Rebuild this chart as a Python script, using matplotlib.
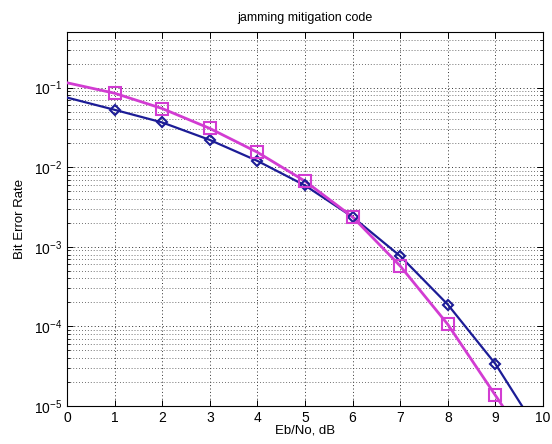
import numpy as np
import matplotlib
matplotlib.use("Agg")
import matplotlib.pyplot as plt
from matplotlib.ticker import LogLocator, NullFormatter, FixedLocator

plt.rcParams['font.family'] = ['Liberation Sans', 'DejaVu Sans']
plt.rcParams['mathtext.fontset'] = 'custom'
plt.rcParams['mathtext.rm'] = 'Liberation Sans'
plt.rcParams['mathtext.it'] = 'Liberation Sans'

# measured points (markers)
ebno = [1, 2, 3, 4, 5, 6, 7, 8, 9]
ber_blue = [0.0526, 0.0365, 0.022, 0.012, 0.0059, 0.00237, 7.65e-4, 1.88e-4, 3.38e-5]
ber_mag = [0.085, 0.0546, 0.0307, 0.0154, 0.00668, 0.00237, 5.74e-4, 1.06e-4, 1.36e-5]

# fitted curves
fit_x_blue = [0, 1, 2, 3, 4, 5, 6, 7, 8, 9, 9.56]
fit_blue = [0.075] + ber_blue + [1e-5]
fit_x_mag = [0, 1, 2, 3, 4, 5, 6, 7, 8, 9, 9.15]
fit_mag = [0.115] + ber_mag + [1e-5]

blue = '#1c1c96'
magenta = '#d23cd2'

fig = plt.figure(figsize=(5.52, 4.44), dpi=100)
ax = fig.add_axes([0.1214, 0.0856, 0.8623, 0.8424])

ax.semilogy(fit_x_blue, fit_blue, '-', color=blue, lw=1.6, zorder=3)
ax.semilogy(ebno, ber_blue, 'D', mfc='none', mec=blue, mew=1.5, ms=5.5, zorder=4)
ax.semilogy(fit_x_mag, fit_mag, '-', color=magenta, lw=2.0, zorder=3)
ax.semilogy(ebno, ber_mag, 's', mfc='none', mec=magenta, mew=1.5, ms=8, zorder=4)

ax.set_xlim(0, 10)
ax.set_ylim(1e-5, 0.5)
ax.xaxis.set_major_locator(FixedLocator(range(11)))
ax.yaxis.set_major_locator(LogLocator(base=10, numticks=10))
ax.yaxis.set_minor_locator(LogLocator(base=10, subs=np.arange(2, 10), numticks=20))
ax.yaxis.set_minor_formatter(NullFormatter())

ax.grid(True, which='major', linestyle=(0, (1, 2.5)), color='#303030', lw=0.7)
ax.grid(True, which='minor', axis='y', linestyle=(0, (1, 2.5)), color='#404040', lw=0.6)
ax.tick_params(which='both', direction='in', top=True, right=True, labelsize=10)
ax.tick_params(which='major', length=4, width=0.7)
ax.tick_params(which='minor', length=2, width=0.6)
for s in ax.spines.values():
    s.set_linewidth(0.8)

ax.set_title('jamming mitigation code', fontsize=9, pad=8)
ax.set_xlabel('Eb/No, dB', fontsize=9.5, labelpad=0)
ax.set_ylabel('Bit Error Rate', fontsize=9.5, labelpad=6)

fig.savefig('out.png', dpi=100, facecolor='white')
